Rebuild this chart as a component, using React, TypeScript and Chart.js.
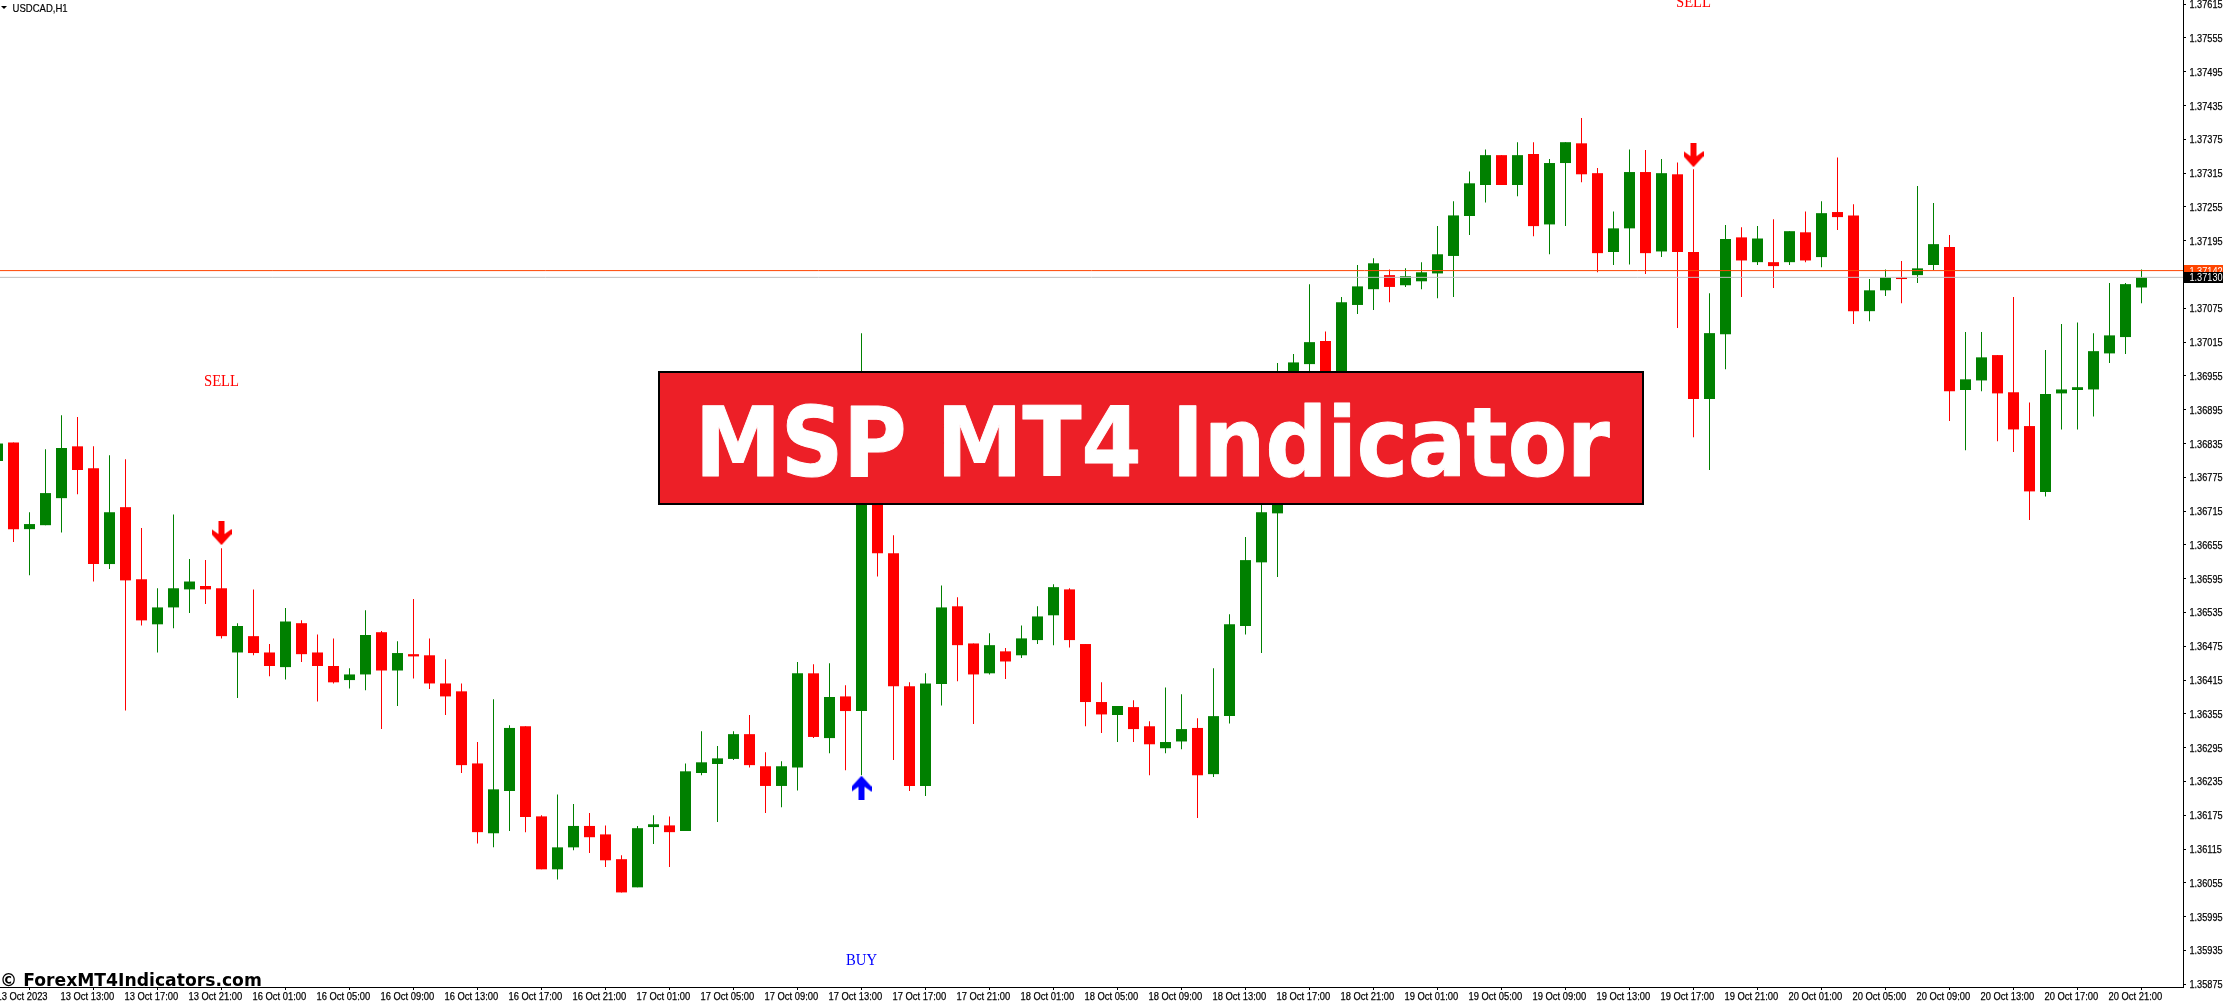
import React, { useEffect, useRef } from "react";
import { Chart, registerables } from "chart.js";

Chart.register(...registerables);

const opens = [1.36804,1.36837,1.36683,1.36690,1.36738,1.36830,1.36791,1.36621,1.36722,1.36594,
1.36514,1.36544,1.36576,1.36582,1.36578,1.36464,1.36493,1.36464,1.36438,1.36516,
1.36464,1.36440,1.36415,1.36425,1.36500,1.36432,1.36461,1.36459,1.36409,1.36395,
1.36267,1.36143,1.36218,1.36333,1.36173,1.36079,1.36118,1.36156,1.36141,1.36097,
1.36047,1.36154,1.36157,1.36147,1.36250,1.36266,1.36275,1.36319,1.36262,1.36227,
1.36260,1.36427,1.36312,1.36386,1.36360,1.36873,1.36640,1.36404,1.36227,1.36408,
1.36546,1.36480,1.36427,1.36466,1.36459,1.36486,1.36530,1.36576,1.36479,1.36376,
1.36353,1.36367,1.36333,1.36294,1.36306,1.36330,1.36248,1.36351,1.36511,1.36624,
1.36711,1.36841,1.36976,1.37017,1.36921,1.37081,1.37109,1.37134,1.37116,1.37123,
1.37137,1.37168,1.37239,1.37294,1.37347,1.37294,1.37349,1.37224,1.37333,1.37368,
1.37315,1.37175,1.37217,1.37317,1.37176,1.37313,1.37175,1.36914,1.37029,1.37201,
1.37157,1.37157,1.37157,1.37210,1.37166,1.37246,1.37240,1.37070,1.37107,1.37130,
1.37134,1.37152,1.37184,1.36930,1.36947,1.36992,1.36926,1.36866,1.36749,1.36924,
1.36930,1.36931,1.36995,1.37024,1.37112];

const highs = [1.36845,1.36837,1.36713,1.36825,1.36885,1.36882,1.36830,1.36814,1.36807,1.36685,
1.36578,1.36709,1.36630,1.36628,1.36649,1.36516,1.36576,1.36479,1.36543,1.36521,
1.36496,1.36489,1.36436,1.36539,1.36502,1.36484,1.36559,1.36489,1.36452,1.36409,
1.36305,1.36381,1.36335,1.36333,1.36175,1.36212,1.36195,1.36179,1.36157,1.36104,
1.36156,1.36175,1.36173,1.36267,1.36324,1.36298,1.36324,1.36353,1.36287,1.36271,
1.36447,1.36443,1.36445,1.36406,1.37031,1.36885,1.36672,1.36411,1.36427,1.36583,
1.36562,1.36480,1.36498,1.36472,1.36512,1.36546,1.36585,1.36578,1.36479,1.36411,
1.36369,1.36379,1.36342,1.36402,1.36390,1.36347,1.36436,1.36532,1.36669,1.36750,
1.36978,1.36994,1.37118,1.37034,1.37095,1.37152,1.37164,1.37144,1.37146,1.37157,
1.37221,1.37265,1.37318,1.37357,1.37347,1.37370,1.37370,1.37340,1.37370,1.37413,
1.37324,1.37247,1.37357,1.37356,1.37340,1.37334,1.37322,1.37102,1.37223,1.37219,
1.37221,1.37233,1.37212,1.37247,1.37265,1.37343,1.37260,1.37127,1.37144,1.37159,
1.37292,1.37262,1.37205,1.37033,1.37033,1.36992,1.37095,1.36908,1.37001,1.37047,
1.37050,1.37031,1.37120,1.37120,1.37144];

const lows = [1.36790,1.36660,1.36601,1.36690,1.36677,1.36745,1.36590,1.36612,1.36361,1.36512,
1.36464,1.36507,1.36534,1.36550,1.36489,1.36383,1.36459,1.36422,1.36416,1.36447,
1.36377,1.36409,1.36400,1.36397,1.36328,1.36369,1.36418,1.36399,1.36353,1.36250,
1.36125,1.36118,1.36147,1.36145,1.36079,1.36061,1.36113,1.36108,1.36083,1.36038,
1.36047,1.36124,1.36083,1.36147,1.36246,1.36163,1.36273,1.36260,1.36179,1.36189,
1.36219,1.36312,1.36285,1.36255,1.36246,1.36599,1.36273,1.36218,1.36209,1.36370,
1.36413,1.36337,1.36425,1.36417,1.36454,1.36479,1.36477,1.36473,1.36333,1.36321,
1.36305,1.36305,1.36246,1.36285,1.36292,1.36170,1.36243,1.36338,1.36496,1.36463,
1.36598,1.36825,1.36912,1.36880,1.36905,1.37065,1.37072,1.37086,1.37113,1.37109,
1.37093,1.37095,1.37205,1.37263,1.37294,1.37274,1.37203,1.37171,1.37221,1.37299,
1.37139,1.37152,1.37153,1.37136,1.37166,1.37040,1.36846,1.36788,1.36967,1.37095,
1.37152,1.37111,1.37152,1.37157,1.37148,1.37214,1.37047,1.37052,1.37097,1.37084,
1.37120,1.37143,1.36875,1.36823,1.36928,1.36839,1.36820,1.36699,1.36741,1.36860,
1.36860,1.36883,1.36978,1.36994,1.37084];

const closes = [1.36835,1.36683,1.36692,1.36747,1.36827,1.36788,1.36621,1.36713,1.36592,1.36521,
1.36544,1.36578,1.36590,1.36576,1.36493,1.36511,1.36463,1.36440,1.36519,1.36461,
1.36440,1.36411,1.36425,1.36495,1.36432,1.36463,1.36457,1.36409,1.36386,1.36264,
1.36145,1.36221,1.36330,1.36172,1.36079,1.36118,1.36156,1.36136,1.36095,1.36038,
1.36152,1.36159,1.36145,1.36253,1.36269,1.36276,1.36319,1.36264,1.36227,1.36262,
1.36427,1.36314,1.36385,1.36360,1.36876,1.36640,1.36404,1.36227,1.36409,1.36544,
1.36477,1.36425,1.36477,1.36448,1.36489,1.36528,1.36580,1.36486,1.36376,1.36354,
1.36369,1.36328,1.36301,1.36305,1.36328,1.36246,1.36351,1.36514,1.36628,1.36713,
1.36841,1.36979,1.37015,1.36894,1.37086,1.37114,1.37155,1.37113,1.37132,1.37139,
1.37171,1.37240,1.37297,1.37347,1.37294,1.37347,1.37221,1.37333,1.37370,1.37313,
1.37173,1.37217,1.37317,1.37173,1.37315,1.37175,1.36914,1.37031,1.37198,1.37160,
1.37199,1.37150,1.37212,1.37160,1.37244,1.37237,1.37070,1.37107,1.37130,1.37127,
1.37146,1.37189,1.36928,1.36949,1.36988,1.36924,1.36860,1.36750,1.36923,1.36931,
1.36935,1.36999,1.37027,1.37118,1.37130];

const priceTicks = [1.37615,1.37555,1.37495,1.37435,1.37375,1.37315,1.37255,1.37195,
1.37075,1.37015,1.36955,1.36895,1.36835,1.36775,1.36715,1.36655,1.36595,1.36535,1.36475,
1.36415,1.36355,1.36295,1.36235,1.36175,1.36115,1.36055,1.35995,1.35935,1.35875];

const timeLabels = ["13 Oct 2023","13 Oct 13:00","13 Oct 17:00","13 Oct 21:00",
"16 Oct 01:00","16 Oct 05:00","16 Oct 09:00","16 Oct 13:00","16 Oct 17:00","16 Oct 21:00",
"17 Oct 01:00","17 Oct 05:00","17 Oct 09:00","17 Oct 13:00","17 Oct 17:00","17 Oct 21:00",
"18 Oct 01:00","18 Oct 05:00","18 Oct 09:00","18 Oct 13:00","18 Oct 17:00","18 Oct 21:00",
"19 Oct 01:00","19 Oct 05:00","19 Oct 09:00","19 Oct 13:00","19 Oct 17:00","19 Oct 21:00",
"20 Oct 01:00","20 Oct 05:00","20 Oct 09:00","20 Oct 13:00","20 Oct 17:00","20 Oct 21:00"];

const sellArrows = [{ x: 14, y: 1.36676 }, { x: 106, y: 1.37347 }];
const buyArrows = [{ x: 54, y: 1.36224 }];
const signalTexts = [
  { text: "SELL", x: 14, y: 1.36937, color: "#ff0000" },
  { text: "SELL", x: 106, y: 1.3761, color: "#ff0000" },
  { text: "BUY", x: 54, y: 1.35909, color: "#0000ff" },
];

const askPrice = 1.37142;
const bidPrice = 1.3713;
const symbolLabel = "USDCAD,H1";
const bannerText = "MSP MT4 Indicator";
const watermarkText = "© ForexMT4Indicators.com";

const UP = "#008000";
const DOWN = "#ff0000";
const ASK = "#ff4500";
const BID = "#c0c0c0";
const X_MIN = 0.15625;
const X_MAX = 136.59375;
const Y_MAX = 1.3762246;
const Y_MIN = 1.3587006;
const TICK_FONT = "11.5px 'Liberation Sans'";

function arrowImage(color: string, up: boolean) {
  const c = document.createElement("canvas");
  c.width = 20;
  c.height = 24;
  const g = c.getContext("2d")!;
  if (up) {
    g.translate(0, 24);
    g.scale(1, -1);
  }
  g.fillStyle = color;
  g.beginPath();
  [[7, 0], [13, 0], [13, 13], [20, 8], [20, 13], [10, 24], [0, 13], [0, 8], [7, 13]].forEach(([x, y], i) =>
    i ? g.lineTo(x, y) : g.moveTo(x, y)
  );
  g.closePath();
  g.fill();
  return c;
}

function squeezed(ctx: CanvasRenderingContext2D, text: string, x: number, y: number, font: string, color: string, sx: number, center = false, stroke = 0) {
  ctx.save();
  ctx.font = font;
  ctx.fillStyle = color;
  ctx.strokeStyle = color;
  ctx.lineWidth = stroke;
  ctx.lineJoin = "round";
  ctx.textBaseline = "alphabetic";
  ctx.textAlign = center ? "center" : "left";
  ctx.translate(x, y);
  ctx.scale(sx, 1);
  ctx.fillText(text, 0, 0);
  if (stroke > 0) ctx.strokeText(text, 0, 0);
  ctx.restore();
}

const overlay = {
  id: "overlay",
  afterDraw(chart: any) {
    const { ctx, scales } = chart;
    const { x, y } = scales;
    // axis labels: the text and positions come from the two scales
    x.ticks.forEach((t: any, i: number) => {
      squeezed(ctx, String(t.label), x.getPixelForTick(i) - 1, 1000, TICK_FONT, "#000", 0.815, false, 0.25);
    });
    y.ticks.forEach((t: any, i: number) => {
      squeezed(ctx, String(t.label), 2189.5, y.getPixelForTick(i) + 4, TICK_FONT, "#000", 0.795, false, 0.25);
    });
    // signal words
    signalTexts.forEach((s) => {
      squeezed(ctx, s.text, x.getPixelForValue(s.x), y.getPixelForValue(s.y), "16.5px 'Liberation Serif'", s.color, 0.89, true);
    });
    // symbol header
    ctx.save();
    ctx.fillStyle = "#000";
    ctx.beginPath();
    ctx.moveTo(1, 6);
    ctx.lineTo(7, 6);
    ctx.lineTo(4, 9);
    ctx.closePath();
    ctx.fill();
    ctx.restore();
    squeezed(ctx, symbolLabel, 12.5, 12, TICK_FONT, "#000", 0.83, false, 0.2);
    // current price tags
    const askY = y.getPixelForValue(askPrice);
    const bidY = y.getPixelForValue(bidPrice);
    ctx.fillStyle = ASK;
    ctx.fillRect(2184, 265, 39, 8);
    squeezed(ctx, askPrice.toFixed(5), 2189.5, askY + 4, TICK_FONT, "#fff", 0.795);
    ctx.fillStyle = "#000";
    ctx.fillRect(2184, 272, 39, 11);
    squeezed(ctx, bidPrice.toFixed(5), 2189.5, bidY + 4, TICK_FONT, "#fff", 0.795);
    // banner
    ctx.fillStyle = "#000";
    ctx.fillRect(658, 371, 986, 134);
    ctx.fillStyle = "#ed1f27";
    ctx.fillRect(660, 373, 982, 130);
    squeezed(ctx, bannerText, 695, 476, "bold 96px 'DejaVu Sans'", "#fff", 0.9, false, 1);
    // watermark
    squeezed(ctx, watermarkText, 0, 985.5, "bold 18px 'DejaVu Sans'", "#000", 0.955);
  },
};

export default function App() {
  const ref = useRef<HTMLCanvasElement>(null);
  useEffect(() => {
    const index = opens.map((_, i) => i);
    const colors = index.map((i) => (closes[i] >= opens[i] ? UP : DOWN));
    const chart = new Chart(ref.current!, {
      type: "bar",
      data: {
        datasets: [
          {
            type: "scatter",
            data: sellArrows,
            pointStyle: arrowImage(DOWN, false),
            pointRadius: 10,
            order: 0,
          },
          {
            type: "scatter",
            data: buyArrows,
            pointStyle: arrowImage("#0000ff", true),
            pointRadius: 10,
            order: 0,
          },
          {
            type: "line",
            data: [{ x: X_MIN, y: askPrice }, { x: X_MAX, y: askPrice }],
            borderColor: ASK,
            borderWidth: 1,
            pointRadius: 0,
            order: 1,
          },
          {
            type: "line",
            data: [{ x: X_MIN, y: bidPrice }, { x: X_MAX, y: bidPrice }],
            borderColor: BID,
            borderWidth: 1,
            pointRadius: 0,
            order: 2,
          },
          {
            type: "bar",
            data: index.map((i) => ({ x: i, y: [opens[i], closes[i]] })),
            backgroundColor: colors,
            barThickness: 11,
            grouped: false,
            inflateAmount: 0,
            order: 3,
          },
          {
            type: "bar",
            data: index.map((i) => ({ x: i, y: [lows[i], highs[i]] })),
            backgroundColor: colors,
            barThickness: 1,
            grouped: false,
            inflateAmount: 0,
            order: 4,
          },
        ] as any,
      },
      options: {
        animation: false,
        responsive: false,
        layout: { padding: 0, autoPadding: false },
        plugins: { legend: { display: false }, tooltip: { enabled: false }, title: { display: false } },
        scales: {
          x: {
            type: "linear",
            min: X_MIN,
            max: X_MAX,
            offset: false,
            afterBuildTicks: (s: any) => {
              s.ticks = timeLabels.map((_, i) => ({ value: i * 4 }));
            },
            afterFit: (s: any) => {
              s.height = 15;
            },
            grid: { drawOnChartArea: false, drawTicks: true, tickLength: 3, tickColor: "#000" },
            border: { color: "#000", width: 1 },
            ticks: {
              display: false,
              autoSkip: false,
              maxRotation: 0,
              minRotation: 0,
              callback: (v: any) => timeLabels[Math.round(Number(v) / 4)],
            },
          },
          y: {
            type: "linear",
            position: "right",
            min: Y_MIN,
            max: Y_MAX,
            afterBuildTicks: (s: any) => {
              s.ticks = priceTicks.map((value) => ({ value }));
            },
            afterFit: (s: any) => {
              s.width = 40;
            },
            grid: { drawOnChartArea: false, drawTicks: true, tickLength: 3, tickColor: "#000" },
            border: { color: "#000", width: 1 },
            ticks: {
              display: false,
              autoSkip: false,
              callback: (v: any) => Number(v).toFixed(5),
            },
          },
        },
      },
      plugins: [overlay],
    } as any);
    return () => chart.destroy();
  }, []);
  return (
    <div style={{ position: "fixed", left: 0, top: 0, width: 2223, height: 1002, background: "#fff" }}>
      <canvas ref={ref} width={2223} height={1002} style={{ display: "block", width: 2223, height: 1002 }} />
    </div>
  );
}
